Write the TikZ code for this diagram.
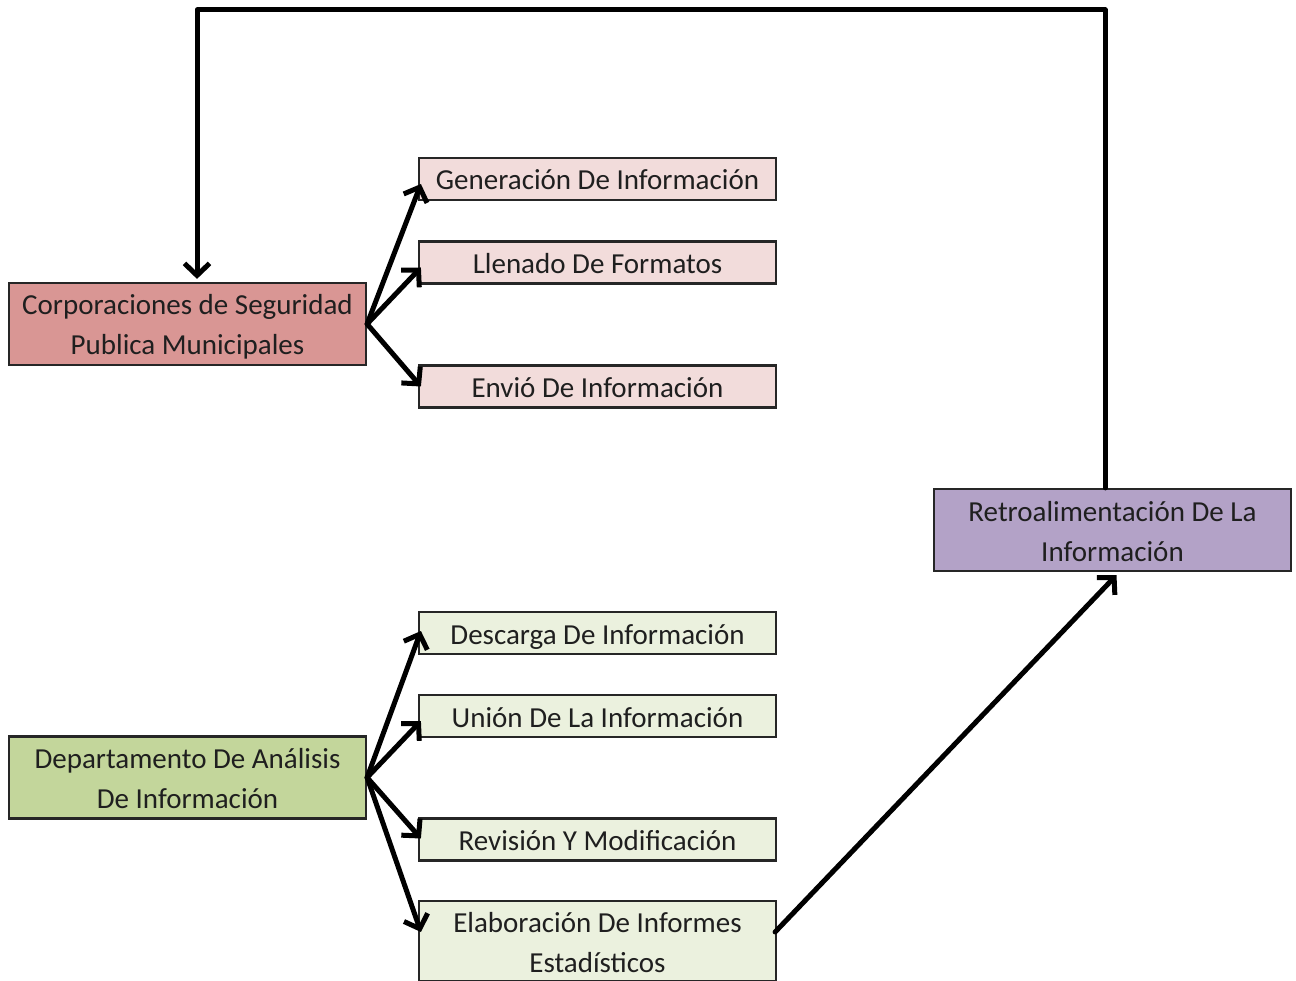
\documentclass[tikz,border=0pt]{standalone}
\usepackage{fontspec}
\setmainfont{Carlito}
\usetikzlibrary{arrows.meta}
\definecolor{corpfill}{HTML}{D99694}
\definecolor{corpsub}{HTML}{F2DCDB}
\definecolor{retrofill}{HTML}{B3A2C7}
\definecolor{deptfill}{HTML}{C3D69B}
\definecolor{deptsub}{HTML}{EBF1DE}
\definecolor{edge}{HTML}{262626}
\newcommand\tx[1]{\raisebox{-3pt}[\height][\depth]{\begin{tabular}{@{}c@{}}#1\end{tabular}}}
\tikzset{
  box/.style={draw=edge, line width=2.2pt, minimum width=357pt, inner sep=0pt,
    font=\fontsize{29}{40}\selectfont, text=black!88},
  bigbox/.style={box, minimum height=82pt},
  smallbox/.style={box, minimum height=42pt},
  conn/.style={line width=5pt, line cap=round, line join=round, -{Straight Barb[length=12pt,width=25pt]}}
}
\begin{document}
\begin{tikzpicture}[x=1pt,y=-1pt]
\path[use as bounding box] (0,0) rectangle (1296,981);
\node[bigbox, fill=corpfill] (corp) at (187.5,324) {\tx{Corporaciones de Seguridad\\Publica Municipales}};
\node[smallbox, fill=corpsub] (gen) at (597.5,179) {\tx{Generación De Información}};
\node[smallbox, fill=corpsub] (llen) at (597.5,262.5) {\tx{Llenado De Formatos}};
\node[smallbox, fill=corpsub] (env) at (597.5,386.5) {\tx{Envió De Información}};
\node[bigbox, fill=retrofill] (retro) at (1112.5,530) {\tx{Retroalimentación De La\\Información}};
\node[bigbox, fill=deptfill] (dept) at (187.5,777.5) {\tx{Departamento De Análisis\\De Información}};
\node[smallbox, fill=deptsub] (desc) at (597.5,633) {\tx{Descarga De Información}};
\node[smallbox, fill=deptsub] (union) at (597.5,716) {\tx{Unión De La Información}};
\node[smallbox, fill=deptsub] (rev) at (597.5,839.5) {\tx{Revisión Y Modificación}};
\node[box, fill=deptsub, minimum height=80pt] (elab) at (597.5,941) {\tx{Elaboración De Informes\\Estadísticos}};
\coordinate (tr) at (1105,10);
\coordinate (tl) at (197,10);
\draw[conn] (corp.east) -- ([xshift=3pt,yshift=-5pt]gen.west);
\draw[conn] (corp.east) -- ([xshift=3pt,yshift=-5pt]llen.west);
\draw[conn] (corp.east) -- ([xshift=3pt]env.west);
\draw[conn] (dept.east) -- ([xshift=3pt,yshift=2pt]desc.west);
\draw[conn] (dept.east) -- ([xshift=3pt,yshift=-5pt]union.west);
\draw[conn] (dept.east) -- ([xshift=3pt,yshift=1pt]rev.west);
\draw[conn] (dept.east) -- ([xshift=3pt,yshift=9pt]elab.west);
\draw[conn] ([xshift=-2pt,yshift=9pt]elab.east) -- ([xshift=4pt,yshift=-3pt]retro.south);
\draw[conn] (retro.north -| tr) -- (tr) -- (tl) -- ([yshift=3pt]corp.north -| tl);
\end{tikzpicture}
\end{document}
